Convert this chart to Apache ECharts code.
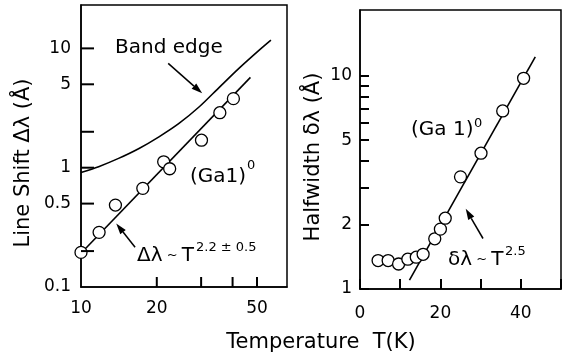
<!DOCTYPE html>
<html>
<head>
<meta charset="utf-8">
<script src="https://cdn.jsdelivr.net/npm/echarts@6/dist/echarts.min.js"></script>
<style>html,body{margin:0;padding:0;background:#fff}#c{width:566px;height:358px}</style>
</head>
<body>
<div id="c"></div>
<script>
// Left panel: (Ga1)0 line shift vs temperature (log-log)
const leftT = [10, 11.8, 13.7, 17.6, 21.3, 22.5, 30.1, 35.6, 40.3];
const leftShift = [0.195, 0.287, 0.486, 0.671, 1.12, 0.98, 1.70, 2.89, 3.79];
const bandT = [10, 11.75, 14.1, 17.0, 20.4, 24.5, 29.5, 35.5, 42.7, 51.3, 56.8];
const bandShift = [0.91, 1.02, 1.197, 1.45, 1.815, 2.35, 3.24, 4.74, 6.90, 9.77, 11.74];
const fitLeftT = [10, 47.1];
const fitLeftShift = [0.192, 5.71];
// Right panel: halfwidth vs temperature (semi-log)
const rightT = [4.5, 7.0, 9.6, 11.9, 14.0, 15.7, 18.6, 20.0, 21.2, 25.0, 30.1, 35.5, 40.7];
const rightWidth = [1.36, 1.36, 1.31, 1.38, 1.41, 1.455, 1.72, 1.91, 2.15, 3.36, 4.34, 6.85, 9.75];
const fitRightT = [12.3, 43.6];
const fitRightWidth = [1.10, 12.3];
// Tick values
const leftXTicks = [20, 30, 40, 50];
const leftXLabels = [10, 20, 50];
const leftYTicks = [0.2, 0.5, 1, 2, 5, 10];
const leftYLabels = [0.1, 0.5, 1, 5, 10];
const rightXLabels = [0, 20, 40];
const rightYTicks = [1, 2, 3, 4, 5, 6, 7, 8, 9, 10];
const rightYLabels = [1, 2, 5, 10];
// Annotation arrows: [gridIndex, fromT, fromV, toT, toV]
const arrows = [
  [0, 22.2, 7.48, 30.3, 4.2],
  [0, 16.4, 0.215, 13.8, 0.341],
  [1, 30.6, 1.726, 26.3, 2.38]
];

const FONT = 'DejaVu Sans';
const X_MIN = 10, Y_MIN = 0.1;
const zip = (a, b) => a.map((v, i) => [v, b[i]]);
const chart = echarts.init(document.getElementById('c'), null, {renderer: 'canvas'});
const axisLine = {show: true, lineStyle: {color: '#000', width: 1.5}};
const lab = {show: true, color: '#000', fontFamily: FONT, fontSize: 17};
const tickStyle = {color: '#000', width: 2};
const circle = {color: '#fff', borderColor: '#000', borderWidth: 1.3, opacity: 1};
const blk = {color: '#000', width: 1.6};

// inward tick drawn through the axes of grid 0 (dir 'x' = tick on bottom axis, 'y' = tick on left axis)
function tickSeries(values, dir, len) {
  return {
    type: 'custom', xAxisIndex: 0, yAxisIndex: 0, clip: false, silent: true, z: 20,
    data: values.map(v => dir === 'x' ? [v, Y_MIN] : [X_MIN, v]),
    renderItem: (params, api) => {
      const p = api.coord([api.value(0), api.value(1)]);
      const shape = dir === 'x'
        ? {x1: p[0], y1: p[1], x2: p[0], y2: p[1] - len}
        : {x1: p[0], y1: p[1], x2: p[0] + len, y2: p[1]};
      return {type: 'line', shape, style: {stroke: '#000', lineWidth: 2, fill: null}};
    }
  };
}

chart.setOption({
  animation: false,
  grid: [
    {left: 81, top: 5, width: 206, height: 282, show: true, borderColor: '#000', borderWidth: 1.5},
    {left: 360, top: 10, width: 201, height: 279, show: true, borderColor: '#000', borderWidth: 1.5}
  ],
  xAxis: [
    {gridIndex: 0, type: 'log', logBase: 10, min: X_MIN, max: 65.8, axisLine,
     splitLine: {show: false}, axisTick: {show: false},
     axisLabel: Object.assign({margin: 13, customValues: leftXLabels}, lab)},
    {gridIndex: 1, type: 'value', min: 0, max: 50, interval: 10, axisLine,
     splitLine: {show: false},
     axisTick: {show: true, inside: true, length: 10, lineStyle: tickStyle},
     axisLabel: Object.assign({margin: 16, customValues: rightXLabels}, lab)}
  ],
  yAxis: [
    {gridIndex: 0, type: 'log', logBase: 10, min: Y_MIN, max: 23.1, axisLine,
     splitLine: {show: false}, axisTick: {show: false},
     axisLabel: Object.assign({margin: 10, customValues: leftYLabels}, lab)},
    {gridIndex: 1, type: 'log', logBase: 10, min: 1, max: 20.4, axisLine,
     splitLine: {show: false},
     axisTick: {show: true, inside: true, length: 9, lineStyle: tickStyle, customValues: rightYTicks},
     axisLabel: Object.assign({margin: 8, customValues: rightYLabels}, lab)}
  ],
  series: [
    {type: 'line', xAxisIndex: 0, yAxisIndex: 0, data: zip(bandT, bandShift), smooth: 0.3,
     showSymbol: false, lineStyle: blk, z: 2},
    {type: 'line', xAxisIndex: 0, yAxisIndex: 0, data: zip(fitLeftT, fitLeftShift),
     showSymbol: false, lineStyle: blk, z: 2},
    {type: 'scatter', xAxisIndex: 0, yAxisIndex: 0, data: zip(leftT, leftShift),
     symbol: 'circle', symbolSize: 12, itemStyle: circle, z: 5},
    {type: 'line', xAxisIndex: 1, yAxisIndex: 1, data: zip(fitRightT, fitRightWidth),
     showSymbol: false, lineStyle: blk, z: 2},
    {type: 'scatter', xAxisIndex: 1, yAxisIndex: 1, data: zip(rightT, rightWidth),
     symbol: 'circle', symbolSize: 12, itemStyle: circle, z: 5},
    tickSeries(leftXTicks, 'x', 10),
    tickSeries(leftYTicks, 'y', 13)
  ]
});

function txt(x, y, text, size, opts) {
  const o = opts || {};
  const style = Object.assign({text, fontFamily: FONT, fontSize: size, fill: '#000',
    align: o.align || 'left', verticalAlign: 'middle'}, o.rich ? {rich: o.rich} : {});
  return {type: 'text', x, y, z: 10, rotation: o.rotation || 0, style};
}
const rich = {
  a: {fontFamily: FONT, fontSize: 20, fill: '#000', verticalAlign: 'middle'},
  b: {fontFamily: FONT, fontSize: 13, fill: '#000', verticalAlign: 'middle'}
};
const graphics = [
  txt(24, 163, 'Line Shift Δλ (Å)', 21, {rotation: Math.PI / 2, align: 'center'}),
  txt(314, 157, 'Halfwidth δλ (Å)', 21, {rotation: Math.PI / 2, align: 'center'}),
  txt(321, 343, 'Temperature  T(K)', 21, {align: 'center'}),
  txt(115, 48, 'Band edge', 20),
  txt(190, 177, '(Ga1)', 20),
  txt(247, 166, '0', 13),
  txt(137, 256, '{a|Δλ}{b| ~ }{a|T}', 20, {rich}),
  txt(196, 248, '2.2 ± 0.5', 13),
  txt(411, 130, '(Ga 1)', 20),
  txt(474, 124, '0', 13),
  txt(448, 260, '{a|δλ}{b| ~ }{a|T}', 20, {rich}),
  txt(505, 252, '2.5', 13)
];

arrows.forEach(a => {
  const p0 = chart.convertToPixel({gridIndex: a[0]}, [a[1], a[2]]);
  const p1 = chart.convertToPixel({gridIndex: a[0]}, [a[3], a[4]]);
  const dx = p1[0] - p0[0], dy = p1[1] - p0[1];
  const L = Math.sqrt(dx * dx + dy * dy);
  const ux = dx / L, uy = dy / L;
  const hl = 11, hw = 3.5;
  const bx = p1[0] - ux * hl, by = p1[1] - uy * hl;
  graphics.push({type: 'line', z: 10, shape: {x1: p0[0], y1: p0[1], x2: bx, y2: by},
    style: {stroke: '#000', lineWidth: 1.5}});
  graphics.push({type: 'polygon', z: 10,
    shape: {points: [[p1[0], p1[1]], [bx - uy * hw, by + ux * hw], [bx + uy * hw, by - ux * hw]]},
    style: {fill: '#000'}});
});
chart.setOption({graphic: graphics});
</script>
</body>
</html>
